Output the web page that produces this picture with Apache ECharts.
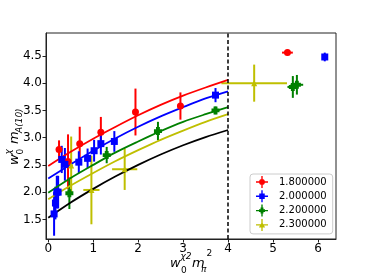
<!DOCTYPE html>
<html><head><meta charset="utf-8">
<script src="https://cdn.jsdelivr.net/npm/echarts@6/dist/echarts.min.js"></script>
<style>html,body{margin:0;padding:0;background:#fff}#c{width:374px;height:280px}</style>
</head><body><div id="c"></div>
<script>
// Tick values
const xTicks = [0, 1, 2, 3, 4, 5, 6];
const yTicks = [1.5, 2.0, 2.5, 3.0, 3.5, 4.0, 4.5];
// Legend names
const names = ['1.800000', '2.000000', '2.200000', '2.300000'];
// Data points: [x, y, xerr, yerr]
const red = [[0.24,2.78,0,0.17],[0.44,2.56,0,0.5],[0.70,2.89,0,0.31],[1.17,3.10,0,0.28],[1.94,3.47,0,0.43],[2.94,3.58,0,0.25],[5.32,4.56,0.12,0.05]];
const blue = [[0.13,1.60,0,0.40],[0.16,1.80,0,0.30],[0.19,2.00,0,0.30],[0.22,2.00,0,0.30],[0.30,2.60,0,0.25],[0.37,2.51,0,0.30],[0.68,2.55,0,0.20],[0.875,2.62,0,0.18],[1.02,2.76,0,0.20],[1.17,2.89,0,0.20],[1.47,2.93,0,0.19],[3.72,3.78,0.05,0.13],[6.15,4.48,0.05,0.08]];
const green = [[0.47,1.98,0,0.29],[1.30,2.68,0,0.15],[2.44,3.12,0,0.17],[3.72,3.50,0.05,0.07],[5.44,3.93,0.12,0.2],[5.53,3.97,0.14,0.18]];
const yellow = [[0.51,2.49,0.04,0.53],[0.96,2.04,0.18,0.63],[1.70,2.42,0.28,0.38],[4.58,4.00,0.73,0.34]];
// Fit curves
const fitX = [0, 0.5, 1, 1.5, 2, 2.5, 3, 3.5, 4];
const fitRed = [2.48, 2.74, 2.98, 3.20, 3.41, 3.60, 3.77, 3.92, 4.06];
const fitBlue = [2.25, 2.51, 2.76, 2.99, 3.20, 3.39, 3.56, 3.72, 3.85];
const fitGreen = [1.99, 2.26, 2.50, 2.73, 2.93, 3.12, 3.29, 3.43, 3.56];
const fitYellow = [1.87, 2.12, 2.35, 2.57, 2.77, 2.96, 3.13, 3.29, 3.43];
const fitBlack = [1.53, 1.81, 2.06, 2.29, 2.50, 2.69, 2.86, 3.01, 3.14];
const chiralX = 4;

const colors = ['#ff0000', '#0000ff', '#008000', '#bfbf00'];
const sets = [red, blue, green, yellow];
const cross = 'M6.2,0H7.8V14H6.2Z M0,6.2H14V7.8H0Z ';
const icons = [
  'path://' + cross + 'M7,3.6A3.4,3.4,0,1,1,6.99,3.6Z',
  'path://' + cross + 'M3.8,3.8H10.2V10.2H3.8Z',
  'path://' + cross + 'M5.3,3.5H8.7V10.5H5.3Z M3.5,5.3H10.5V8.7H3.5Z',
  'path://' + cross + 'M7,3.2L10.6,10H3.4Z'
];
const symbols = ['circle', 'rect', 'path://M5.3,3.5H8.7V10.5H5.3Z M3.5,5.3H10.5V8.7H3.5Z', 'triangle'];
const symSizes = [7, 7, 8, 6];

function errRender(color) {
  return function (params, api) {
    const x = api.value(0), y = api.value(1), ex = api.value(2), ey = api.value(3);
    const ch = [];
    if (ey > 0) {
      const a = api.coord([x, y - ey]), b = api.coord([x, y + ey]);
      ch.push({type: 'line', shape: {x1: a[0], y1: a[1], x2: b[0], y2: b[1]}, style: {stroke: color, lineWidth: 2}});
    }
    if (ex > 0) {
      const a = api.coord([x - ex, y]), b = api.coord([x + ex, y]);
      ch.push({type: 'line', shape: {x1: a[0], y1: a[1], x2: b[0], y2: b[1]}, style: {stroke: color, lineWidth: 2}});
    }
    return {type: 'group', children: ch};
  };
}

const series = [];
const fits = [fitRed, fitBlue, fitGreen, fitYellow, fitBlack];
const fitColors = ['#ff0000', '#0000ff', '#008000', '#bfbf00', '#000000'];
fits.forEach((f, i) => {
  const s = {
    type: 'line', name: 'fit' + i, data: fitX.map((x, k) => [x, f[k]]),
    smooth: 0.3, showSymbol: false, silent: true, z: 3,
    lineStyle: {color: fitColors[i], width: 1.8}
  };
  if (i === 4) {
    s.markLine = {symbol: 'none', silent: true, label: {show: false},
      lineStyle: {type: [4, 2.5], color: '#000', width: 1.5},
      data: [{xAxis: chiralX}]};
  }
  series.push(s);
});
sets.forEach((d, i) => {
  series.push({type: 'custom', name: 'err' + i, data: d, renderItem: errRender(colors[i]), z: 2, silent: true});
  series.push({type: 'scatter', name: names[i], data: d.map(p => [p[0], p[1]]),
    symbol: symbols[i], symbolSize: symSizes[i], itemStyle: {color: colors[i], opacity: 1}, z: 4});
});

const chart = echarts.init(document.getElementById('c'), null, {renderer: 'canvas'});
// text helper: (x, baseline) -> placed with middle alignment
function t(x, base, text, size, italic) {
  return {type: 'text', x: x, y: base - 0.32 * size,
    style: {text: text, fontSize: size, fontFamily: 'DejaVu Sans', fontStyle: italic ? 'italic' : 'normal',
      fill: '#000', verticalAlign: 'middle', align: 'left'}};
}
chart.setOption({
  animation: false,
  grid: {left: 46, right: 38, top: 33, bottom: 41, show: true, borderColor: '#222', borderWidth: 1, backgroundColor: 'transparent'},
  xAxis: {type: 'value', min: -0.05, max: 6.4,
    axisLine: {onZero: false, lineStyle: {color: '#222', width: 1}},
    axisTick: {customValues: xTicks, length: 3.5, lineStyle: {color: '#222'}},
    axisLabel: {customValues: xTicks, color: '#000', fontSize: 12, fontFamily: 'DejaVu Sans', margin: 4},
    splitLine: {show: false}},
  yAxis: {type: 'value', min: 1.14, max: 4.92,
    axisLine: {onZero: false, lineStyle: {color: '#222', width: 1}},
    axisTick: {customValues: yTicks, length: 3.5, lineStyle: {color: '#222'}},
    axisLabel: {customValues: yTicks, color: '#000', fontSize: 12, fontFamily: 'DejaVu Sans', margin: 4, formatter: v => v.toFixed(1)},
    splitLine: {show: false}},
  legend: {
    data: names.map((n, i) => ({name: n, icon: icons[i], itemStyle: {color: colors[i]}})),
    orient: 'vertical', left: 250, top: 174,
    padding: [2, 6, 3, 6], itemGap: 2.3, itemWidth: 14, itemHeight: 12,
    borderColor: '#ccc', borderWidth: 1, borderRadius: 3, backgroundColor: '#fff',
    textStyle: {fontSize: 10, fontFamily: 'DejaVu Sans', color: '#000', padding: [0, 0, 0, 5]}
  },
  graphic: [
    {type: 'group', x: 0, y: 0, children: [
      t(170, 268, 'w', 13, true),
      t(180.5, 259.5, 'χ2', 9, true),
      t(181, 273.5, '0', 9, false),
      t(192, 268, 'm', 13, true),
      t(201, 273, 'π', 9, true),
      t(206.5, 257, '2', 9, false)
    ]},
    {type: 'group', x: 19, y: 165, rotation: Math.PI / 2, children: [
      t(0, 0, 'w', 13, true),
      t(10.5, -7.5, 'χ', 9, true),
      t(10.5, 5, '0', 9, false),
      t(21, 0, 'm', 13, true),
      t(32, 4, 'A(10)', 9, true)
    ]}
  ],
  series: series
});
</script>
</body></html>
